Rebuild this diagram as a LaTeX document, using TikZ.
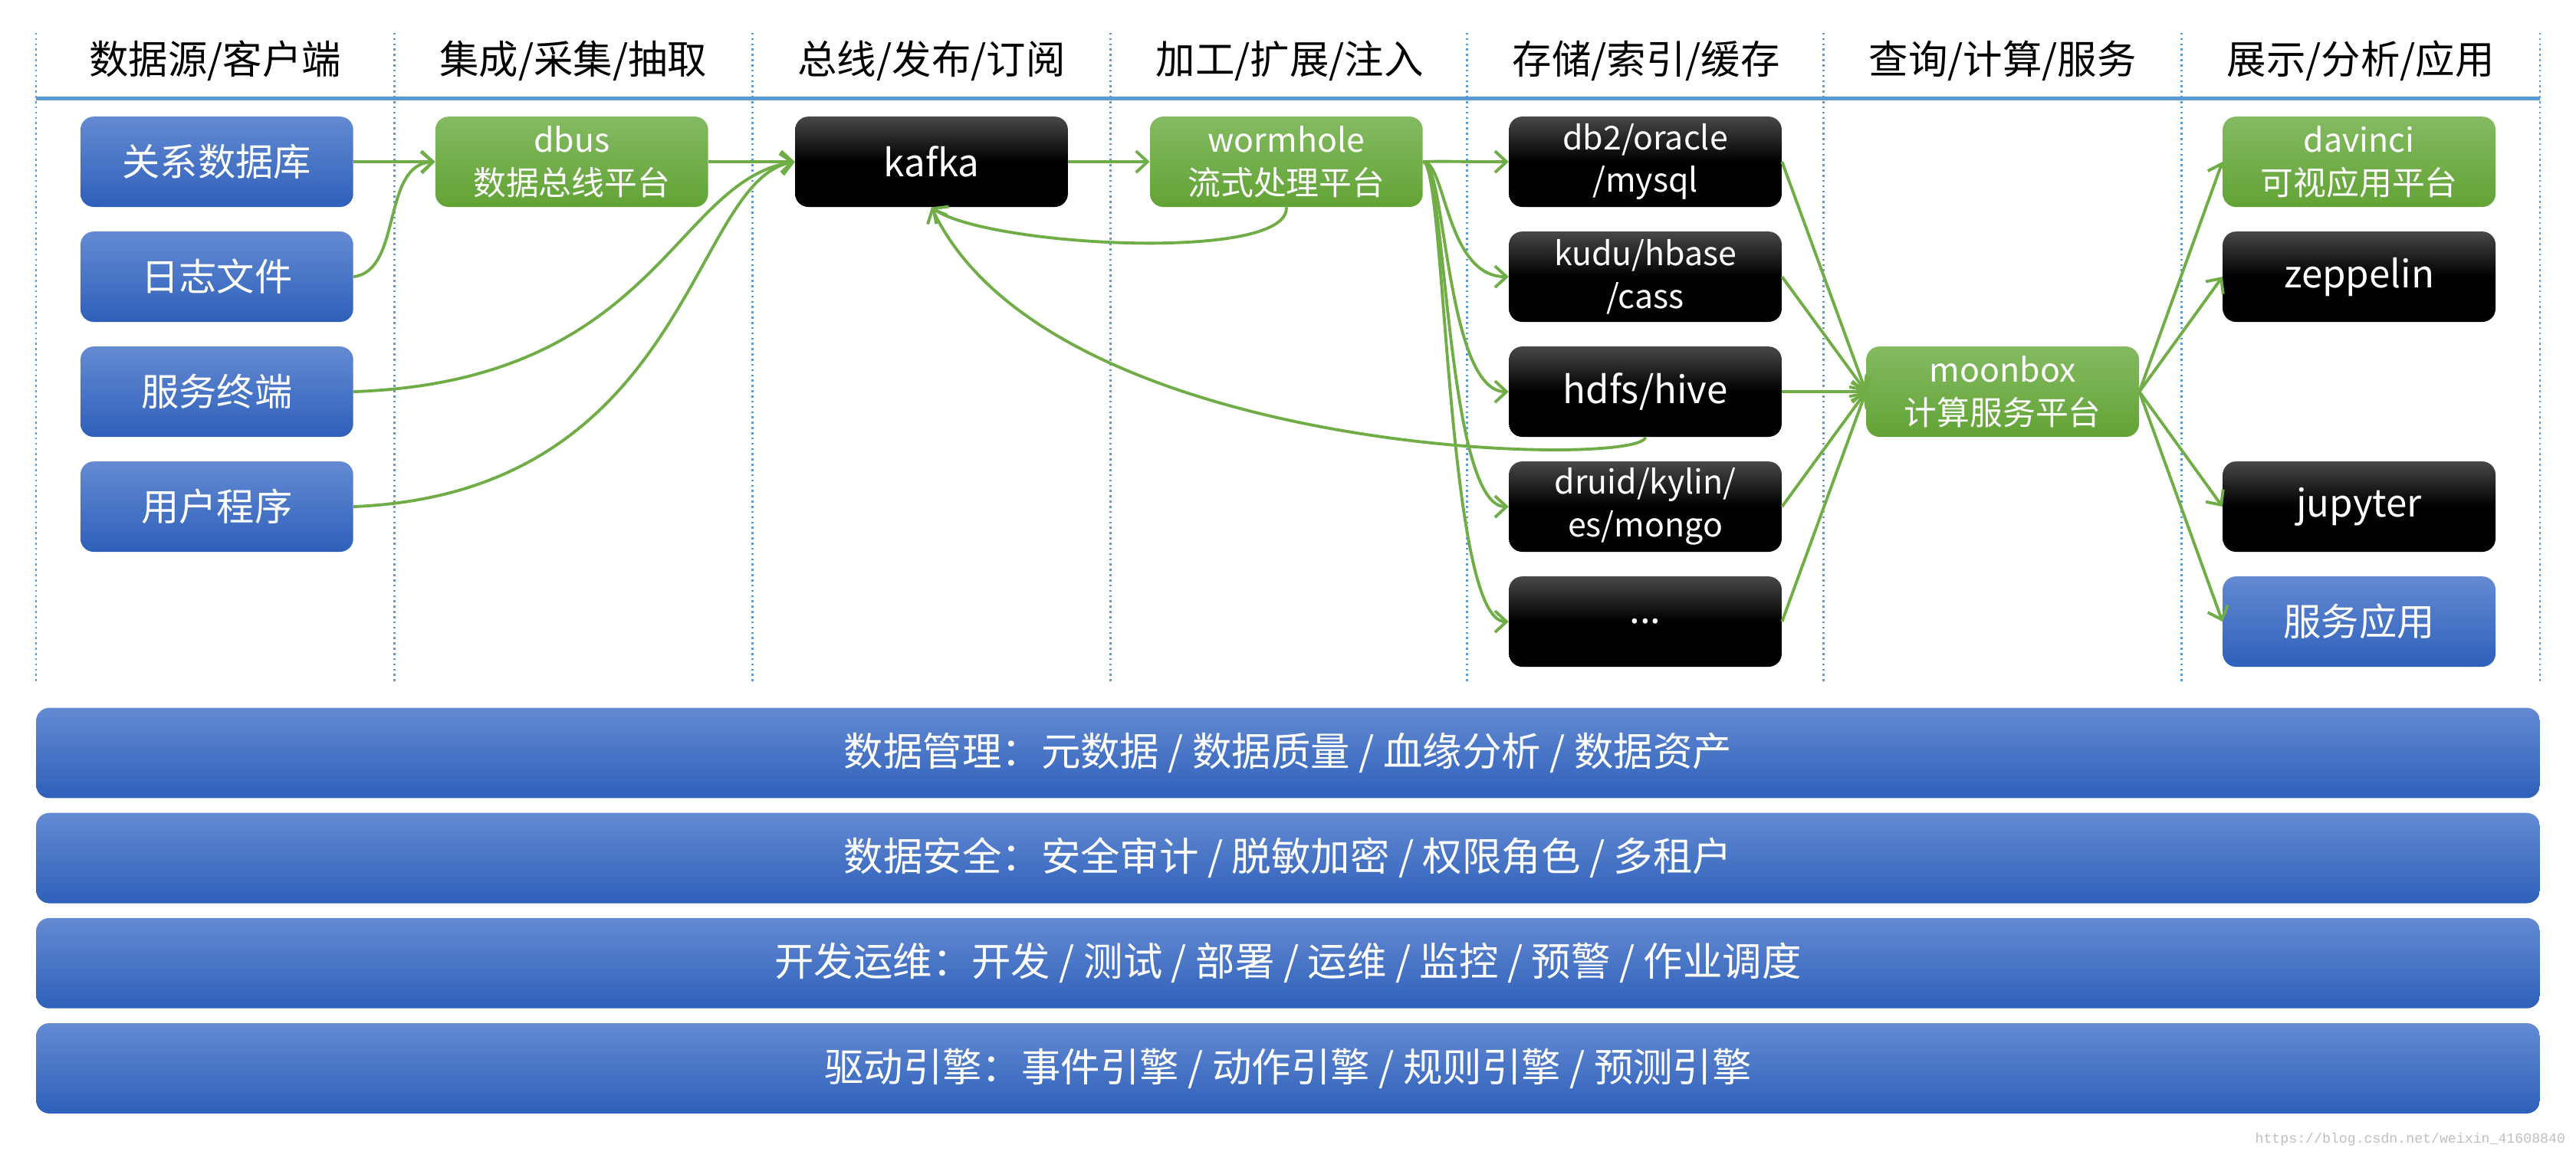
\documentclass[tikz,border=0pt]{standalone}
\usepackage{fontspec}
\setmainfont{Noto Sans CJK SC}
\newfontfamily\wmfont{Liberation Mono}
\usetikzlibrary{arrows.meta}
\definecolor{gline}{RGB}{112,173,71}
\definecolor{bline}{RGB}{91,155,213}
\tikzset{
 nbox/.style={minimum width=166pt,minimum height=55pt,rounded corners=8pt,text=white,align=center,inner sep=0pt,font=\fontsize{23}{27}\selectfont},
 twol/.style={font=\fontsize{20}{26}\selectfont},
 bluebox/.style={nbox,top color={rgb,255:red,100;green,138;blue,210},bottom color={rgb,255:red,46;green,96;blue,186}},
 greenbox/.style={nbox,top color={rgb,255:red,132;green,186;blue,98},bottom color={rgb,255:red,98;green,163;blue,53}},
 blackbox/.style={nbox,top color={rgb,255:red,72;green,72;blue,72},bottom color=black,middle color=black},
 bar/.style={bluebox,minimum width=1524pt,font=\fontsize{24}{28}\selectfont},
 hdr/.style={font=\fontsize{24}{28}\selectfont},
 arr/.style={draw=gline,line width=1.8pt,-{Straight Barb[length=7pt,width=13pt,line width=1.8pt]}},
 divl/.style={draw=bline,line width=1.2pt,dotted},
}
\begin{document}
\begin{tikzpicture}[x=1pt,y=-1pt]
\useasboundingbox[fill=white] (0,0) rectangle (1568,705);
% dividers
\foreach \x in {22,240,458,676,893,1110,1328,1546}
  \draw[divl] (\x,20) -- (\x,415);
\draw[bline,line width=2.2pt] (22,60) -- (1546,60);
% headers
\node[hdr] (h1) at (131,37) {数据源/客户端};
\node[hdr] (h2) at (349,37) {集成/采集/抽取};
\node[hdr] (h3) at (567,37) {总线/发布/订阅};
\node[hdr] (h4) at (785,37) {加工/扩展/注入};
\node[hdr] (h5) at (1002,37) {存储/索引/缓存};
\node[hdr] (h6) at (1219,37) {查询/计算/服务};
\node[hdr] (h7) at (1437,37) {展示/分析/应用};
% col1
\node[bluebox] (rdb) at (132,98.5) {关系数据库};
\node[bluebox] (log) at (132,168.5) {日志文件};
\node[bluebox] (svc) at (132,238.5) {服务终端};
\node[bluebox] (usr) at (132,308.5) {用户程序};
\node[greenbox,twol] (dbus) at (348,98.5) {dbus\\数据总线平台};
\node[blackbox] (kafka) at (567,98.5) {kafka};
\node[greenbox,twol] (worm) at (783,98.5) {wormhole\\流式处理平台};
\node[blackbox,twol] (db2) at (1001.5,98.5) {db2/oracle\\/mysql};
\node[blackbox,twol] (kudu) at (1001.5,168.5) {kudu/hbase\\/cass};
\node[blackbox] (hdfs) at (1001.5,238.5) {hdfs/hive};
\node[blackbox,twol] (druid) at (1001.5,308.5) {druid/kylin/\\es/mongo};
\node[blackbox] (etc) at (1001.5,378.5) {...};
\node[greenbox,twol] (moon) at (1219,238.5) {moonbox\\计算服务平台};
\node[greenbox,twol] (davi) at (1436,98.5) {davinci\\可视应用平台};
\node[blackbox] (zep) at (1436,168.5) {zeppelin};
\node[blackbox] (jup) at (1436,308.5) {jupyter};
\node[bluebox] (app) at (1436,378.5) {服务应用};
% bars
\node[bar] (b1) at (784,458.5) {数据管理：元数据 / 数据质量 / 血缘分析 / 数据资产};
\node[bar] (b2) at (784,522.5) {数据安全：安全审计 / 脱敏加密 / 权限角色 / 多租户};
\node[bar] (b3) at (784,586.5) {开发运维：开发 / 测试 / 部署 / 运维 / 监控 / 预警 / 作业调度};
\node[bar] (b4) at (784,650.5) {驱动引擎：事件引擎 / 动作引擎 / 规则引擎 / 预测引擎};
\node[text=black!25,font=\wmfont\fontsize{8.5}{10}\selectfont,anchor=east] (wm) at (1565,694) {https://blog.csdn.net/weixin\_41608840};
% arrows
\draw[arr] (rdb.east) -- (dbus.west);
\draw[arr] (log.east) .. controls (245,165) and (232,100) .. (dbus.west);
\draw[arr] (svc.east) .. controls (400,232) and (410,110) .. (kafka.west);
\draw[arr] (usr.east) .. controls (420,300) and (420,110) .. (kafka.west);
\draw[arr] (dbus.east) -- (kafka.west);
\draw[arr] (kafka.east) -- (worm.west);
\draw[arr] (worm.south) .. controls (785,160) and (600,150) .. (kafka.south);
\draw[arr] (hdfs.south) .. controls (1000,285) and (640,280) .. (kafka.south);
\foreach \t in {db2,kudu,hdfs,druid,etc}
  \draw[arr] (worm.east) .. controls (880,98) and (880,0 |- \t.west) .. (\t.west);
\foreach \s in {db2,kudu,hdfs,druid,etc}
  \draw[arr] (\s.east) -- (moon.west);
\foreach \t in {davi,zep,jup,app}
  \draw[arr] (moon.east) -- (\t.west);
\end{tikzpicture}
\end{document}
